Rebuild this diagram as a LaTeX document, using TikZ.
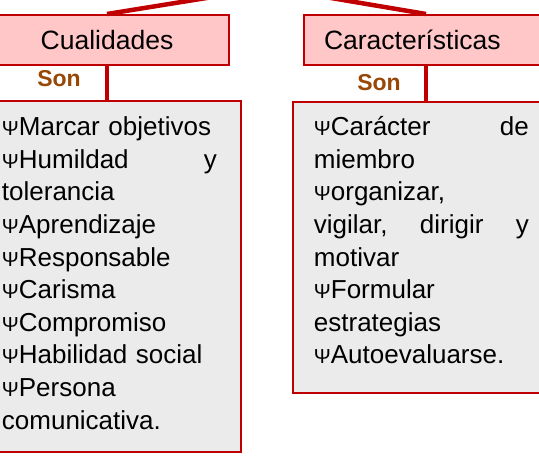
\documentclass[tikz,border=0pt]{standalone}
\usepackage{graphicx}
\usepackage{fontspec}
\setmainfont{Liberation Sans}
\usepackage{tikz}
\usetikzlibrary{positioning}
\usepackage{color}
\definecolor{Office-1}{RGB}{192,0,0}
\definecolor{Office-2}{RGB}{255,199,199}
\definecolor{Office-3}{RGB}{235,235,235}
\definecolor{Office-4}{RGB}{151,72,6}
\newcommand{\psib}{\scalebox{0.78}{Ψ}}

\begin{document}
\begin{tikzpicture}[x=1pt, y=1pt]
    \tikzset{ hdr/.style ={draw=Office-1, line width=2pt, fill=Office-2, font=\fontsize{26.5}{30}\selectfont, minimum height=50pt, inner xsep=20pt, text width=204pt, align=center} }
    \tikzset{ lst/.style ={draw=Office-1, line width=2.5pt, fill=Office-3} }
    \tikzset{ txt/.style ={font=\fontsize{26}{32.6}\selectfont, text width=215pt, align=left, inner sep=0pt, anchor=base west} }
    \tikzset{ son/.style ={text=Office-4, font=\fontsize{23}{26}\selectfont\bfseries} }
    \tikzset{ con/.style ={draw=Office-1, line width=4.5pt} }

    \useasboundingbox (0,0) rectangle (539,-456);
    \clip (0,0) rectangle (539,-456);

    \node[hdr                                                          ] (hdrL) at ( 107.0, -40.0) {Cualidades};
    \node[hdr, align=left                                              ] (hdrR) at ( 426.0, -40.0) {Características};
    \node[lst, minimum width=251pt, minimum height=351pt               ] (lstL) at ( 115.5,-276.5) {};
    \node[lst, minimum width=267pt, minimum height=291pt               ] (lstR) at ( 426.5,-247.5) {};
    \node[son                                                          ] (sonL) at (  59.0, -79.0) {Son};
    \node[son                                                          ] (sonR) at ( 379.0, -83.0) {Son};

    \node[txt, at=(lstL.north west), xshift=13pt, yshift=-36pt] (txtL) {\psib Marcar objetivos\\
        \psib Humildad\hfill y\\
        tolerancia\\
        \psib Aprendizaje\\
        \psib Responsable\\
        \psib Carisma\\
        \psib Compromiso\\
        \psib Habilidad social\\
        \psib Persona\\
        comunicativa.};
    \node[txt, at=(lstR.north west), xshift=22pt, yshift=-35pt] (txtR) {\psib Carácter\hfill de\\
        miembro\\
        \psib organizar,\\
        vigilar,\hfill dirigir\hfill y\\
        motivar\\
        \psib Formular\\
        estrategias\\
        \psib Autoevaluarse.};

    \coordinate (upL) at (240.5, 7.5);
    \coordinate (upR) at (298.5, 7.5);

    \draw[con] (hdrL.north) -- (upL);
    \draw[con] (hdrR.north) -- (upR);
    \draw[con] (hdrL.south) -- (hdrL.south |- lstL.north);
    \draw[con] (hdrR.south) -- (hdrR.south |- lstR.north);
\end{tikzpicture}
\end{document}
